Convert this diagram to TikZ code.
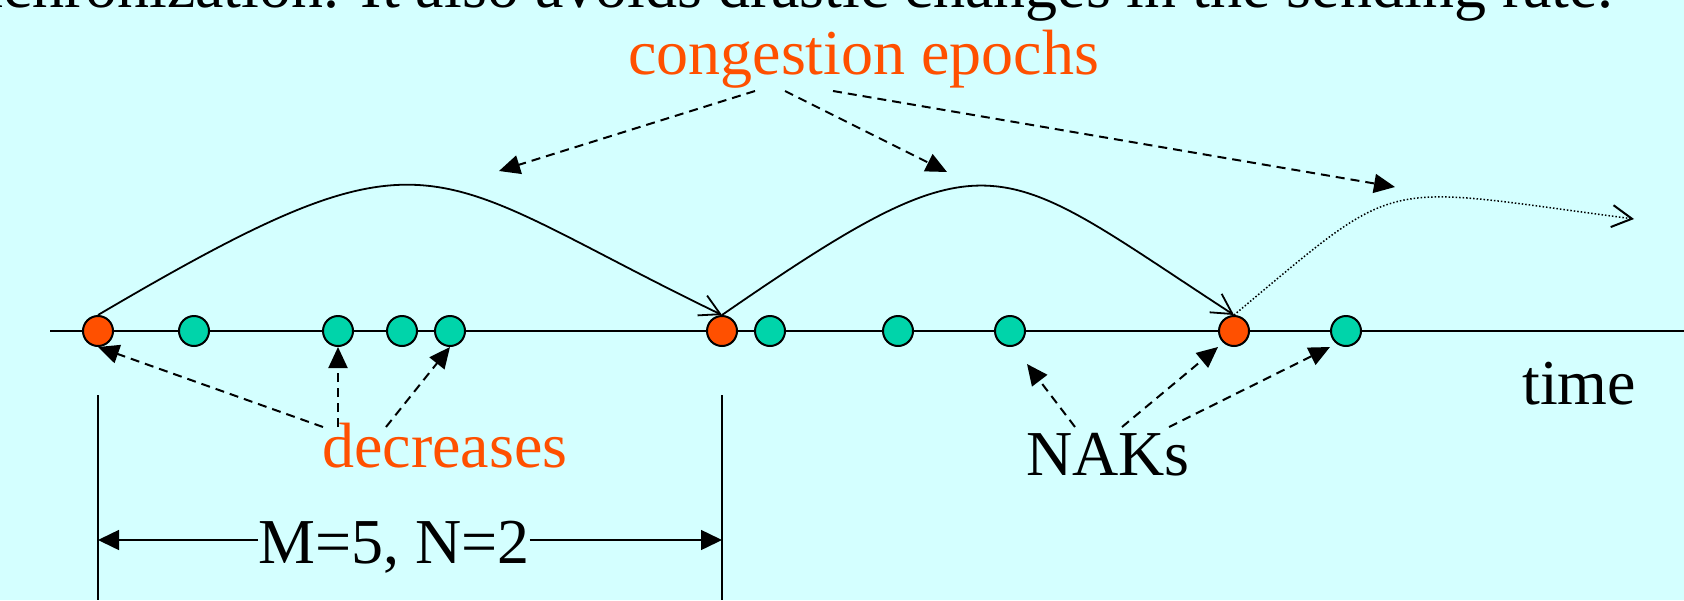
\documentclass[tikz,border=0pt]{standalone}
\usepackage{fontspec}
\setmainfont{Liberation Serif}
\usetikzlibrary{arrows.meta}
\definecolor{bg}{HTML}{D4FFFF}
\definecolor{redpt}{HTML}{FF5000}
\definecolor{grnpt}{HTML}{00D4AA}
\definecolor{lbl}{HTML}{FF5000}
\begin{document}
\begin{tikzpicture}[x=1pt,y=-1pt,
  dot/.style={circle,draw=black,line width=2pt,minimum size=30pt,inner sep=0pt},
  reddot/.style={dot,fill=redpt},
  grndot/.style={dot,fill=grnpt},
  txt/.style={inner sep=0pt,font=\fontsize{64}{70}\selectfont},
  note/.style={txt,text=lbl},
  epoch/.style={line width=1.8pt,-{Straight Barb[length=20pt,width=22pt]}},
  future/.style={line width=1.5pt,dash pattern=on 1.5pt off 2pt,-{Straight Barb[length=20pt,width=22pt,line width=2pt]}},
  pointer/.style={line width=2pt,dash pattern=on 9pt off 6pt,-{Triangle[length=21pt,width=19pt]}},
  dimline/.style={line width=1.5pt},
  dimarrow/.style={line width=1.5pt,-{Triangle[length=21pt,width=20pt]}}]
\fill[bg] (0,0) rectangle (1684,600);
\useasboundingbox (0,0) rectangle (1684,600);
\clip (0,0) rectangle (1684,600);

% cut-off title line
\node[txt,anchor=base east] (title) at (1614,7) {synchronization. It also avoids drastic changes in the sending rate.};

% time axis
\coordinate (tl) at (50,331);
\coordinate (tr) at (1684,331);
\draw[line width=2pt] (tl) -- (tr);

% events
\node[reddot] (r1) at (98,331) {};
\node[grndot] (g1) at (194,331) {};
\node[grndot] (g2) at (338,331) {};
\node[grndot] (g3) at (402,331) {};
\node[grndot] (g4) at (450,331) {};
\node[reddot] (r2) at (722,331) {};
\node[grndot] (g5) at (770,331) {};
\node[grndot] (g6) at (898,331) {};
\node[grndot] (g7) at (1010,331) {};
\node[reddot] (r3) at (1234,331) {};
\node[grndot] (g8) at (1346,331) {};

% epochs
\draw[epoch] (r1.north) .. controls +(340,-200) and +(-300,-145) .. (r2.north);
\draw[epoch] (r2.north) .. controls +(272,-188) and +(-240,-156) .. (r3.north);
\coordinate (fut) at (1634,219);
\draw[future] (r3.north) .. controls +(170,-142) and +(-260,-34) .. (fut);

% congestion epochs label
\node[note,anchor=base west] (ce) at (628,74) {congestion epochs};
\coordinate (ce1) at (755,91);
\coordinate (ce2) at (785,91);
\coordinate (ce3) at (833,91);
\coordinate (ep1) at (499,171);
\coordinate (ep2) at (947,172);
\coordinate (ep3) at (1395,187);
\draw[pointer] (ce1) -- (ep1);
\draw[pointer] (ce2) -- (ep2);
\draw[pointer] (ce3) -- (ep3);

% decreases label
\node[note,anchor=base west] (dec) at (322,467) {decreases};
\coordinate (d1) at (323,427);
\coordinate (d2) at (338,427);
\coordinate (d3) at (386,427);
\draw[pointer] (d1) -- (r1.south);
\draw[pointer] (d2) -- (g2.south);
\draw[pointer] (d3) -- (g4.south);

% NAKs label
\node[txt,anchor=base west] (nak) at (1026,475) {NAKs};
\coordinate (n1) at (1075,427);
\coordinate (n2) at (1122,427);
\coordinate (n3) at (1169,427);
\coordinate (nt1) at (1027,364);
\coordinate (nt2) at (1218,347);
\coordinate (nt3) at (1330,347);
\draw[pointer] (n1) -- (nt1);
\draw[pointer] (n2) -- (nt2);
\draw[pointer] (n3) -- (nt3);

% time label
\node[txt,anchor=base west] (time) at (1522,404) {time};

% dimension
\coordinate (vt1) at (98,395);
\coordinate (vb1) at (98,600);
\coordinate (vt2) at (722,395);
\coordinate (vb2) at (722,600);
\draw[dimline] (vt1) -- (vb1);
\draw[dimline] (vt2) -- (vb2);
\node[txt,anchor=base west] (mn) at (258,563) {M=5, N=2};
\coordinate (al) at (98,540);
\coordinate (ar) at (722,540);
\draw[dimarrow] (mn.west |- al) -- (al);
\draw[dimarrow] (mn.east |- ar) -- (ar);
\end{tikzpicture}
\end{document}
